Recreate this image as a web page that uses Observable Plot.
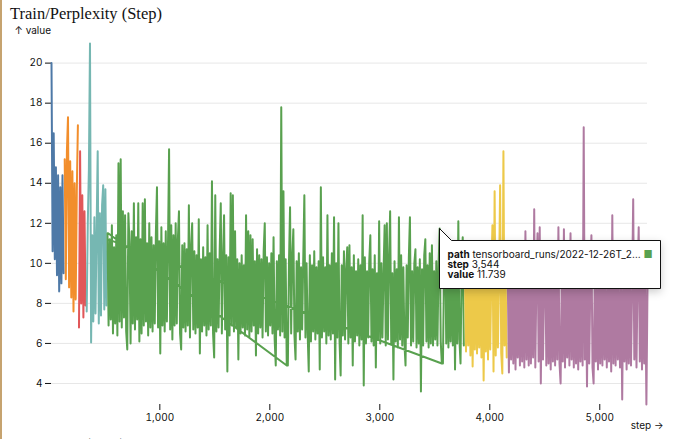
<!DOCTYPE html>
<html>
<head>
<meta charset="utf-8">
<script src="https://cdn.jsdelivr.net/npm/d3@7"></script>
<script src="https://cdn.jsdelivr.net/npm/@observablehq/plot@0.6"></script>
<style>
  html, body { margin: 0; padding: 0; background: #fff; width: 680px; height: 439px; overflow: hidden; }
  #page { position: relative; width: 680px; height: 439px; border-left: 2px solid #c6a36f; box-sizing: border-box; overflow: hidden; }
  .title { position: absolute; left: 8px; font-family: "Liberation Serif", "Times New Roman", serif; font-size: 16.5px; line-height: 1; color: #111; white-space: nowrap; }
  #chart { position: absolute; left: 9px; top: 23px; }
</style>
</head>
<body>
<div id="page">
  <div class="title" style="top:6px">Train/Perplexity (Step)</div>
  <div id="chart"></div>
  <div class="title" style="top:437px">Train/Loss (Step)</div>
</div>
<script>
// ---- data ----
const paths = [
  "tensorboard_runs/2022-12-25T_09-12-44",
  "tensorboard_runs/2022-12-25T_13-40-02",
  "tensorboard_runs/2022-12-25T_18-05-37",
  "tensorboard_runs/2022-12-26T_08-22-19",
  "tensorboard_runs/2022-12-26T_21-03-55",
  "tensorboard_runs/2022-12-27T_10-48-31",
  "tensorboard_runs/2022-12-27T_16-15-09"
];
const colors = ["#4e79a7", "#f28e2c", "#e15759", "#76b7b2", "#59a14f", "#edc949", "#af7aa1"];
const starts = [15, 135, 265, 335, 524, 3774, 4164];
const logEvery = 10;
const xLabel = "step →";

const run0 = [20.0, 10.6, 16.5, 10.2, 14.8, 9.4, 14.4, 8.6, 13.8, 9.0, 14.4, 9.5];
const run1 = [15.2, 9.2, 15.6, 17.3, 8.8, 15.1, 8.3, 14.6, 7.6, 14.0, 8.2, 13.6, 16.9];
const run2 = [6.8, 15.6, 8.0, 13.4, 7.3, 12.6, 7.9];
const run3 = [7.6, 12.0, 14.7, 20.98, 6.05, 11.4, 7.1, 12.3, 7.5, 11.6, 15.6, 7.0, 12.5, 7.4, 12.9, 13.9, 7.7, 13.7, 7.9];
const run4 = [
  11.5, 6.9, 11.2, 7.2, 11.9, 6.5, 10.8, 7.0, 11.4, 6.4,
  15.0, 7.1, 15.2, 6.8, 12.6, 7.3, 12.4, 6.6, 5.7, 12.5,
  11.0, 6.0, 11.6, 7.0, 13.0, 6.7, 11.3, 7.2, 13.0, 6.1,
  11.2, 6.5, 13.0, 6.9, 13.2, 7.1, 11.0, 6.4, 12.0, 6.8,
  11.3, 6.6, 10.9, 7.0, 11.5, 13.8, 6.8, 11.1, 5.5, 11.8,
  6.9, 11.0, 6.6, 11.6, 7.1, 10.8, 15.7, 6.7, 11.9, 6.2,
  11.4, 6.9, 12.0, 7.0, 11.2, 12.6, 6.5, 5.7, 10.9, 6.8,
  11.0, 6.6, 10.7, 6.9, 12.9, 6.3, 10.8, 12.0, 6.7, 10.6,
  6.5, 10.4, 6.8, 12.2, 5.5, 10.2, 6.6, 10.8, 6.9, 10.3,
  6.4, 11.9, 6.7, 10.5, 6.9, 14.1, 6.5, 5.3, 13.4, 6.6,
  10.2, 6.8, 10.6, 13.0, 6.5, 10.1, 12.4, 6.7, 10.4, 4.6,
  10.3, 6.4, 13.5, 6.9, 13.4, 6.6, 11.6, 6.8, 10.2, 5.2,
  10.0, 6.5, 10.4, 6.8, 9.9, 6.4, 12.4, 6.7, 11.6, 6.3,
  11.4, 6.6, 11.2, 6.9, 10.1, 5.4, 10.7, 6.5, 10.4, 6.8,
  10.2, 6.3, 10.6, 12.0, 6.6, 10.3, 6.4, 10.0, 6.9, 10.5,
  6.5, 11.3, 6.2, 4.9, 10.1, 6.7, 10.4, 6.4, 17.8, 6.6,
  13.6, 6.3, 10.2, 4.9, 4.9, 10.0, 12.8, 6.5, 10.3, 11.7,
  6.4, 5.2, 10.1, 6.6, 10.5, 6.2, 9.8, 6.7, 10.2, 13.4,
  6.3, 10.0, 6.5, 4.6, 10.4, 6.1, 9.9, 6.6, 10.6, 6.2,
  9.8, 6.5, 10.1, 4.7, 13.8, 6.3, 10.3, 6.6, 9.8, 6.0,
  12.4, 6.4, 9.9, 6.2, 10.5, 6.5, 12.3, 4.2, 10.0, 6.3,
  12.0, 6.1, 4.4, 9.9, 6.4, 10.6, 6.2, 9.7, 10.8, 6.0,
  10.9, 6.3, 9.8, 4.9, 10.4, 6.1, 9.6, 6.4, 10.2, 5.9,
  9.9, 6.2, 12.4, 3.9, 10.3, 6.0, 9.6, 6.3, 10.1, 11.4,
  6.1, 9.7, 5.9, 10.4, 4.8, 9.5, 6.2, 12.1, 6.0, 10.0,
  6.3, 9.6, 11.9, 5.9, 12.0, 6.2, 10.2, 12.6, 6.0, 9.5,
  4.2, 10.1, 6.1, 9.7, 5.8, 12.3, 6.2, 10.4, 5.9, 9.8,
  6.0, 4.9, 9.9, 6.3, 10.3, 12.3, 5.9, 9.6, 6.1, 10.0,
  10.7, 5.8, 9.8, 6.0, 10.2, 3.6, 9.7, 5.9, 10.4, 11.2,
  6.1, 9.9, 5.8, 10.5, 6.0, 10.9, 5.9, 9.6, 6.2, 10.1,
  5.9, 9.8, 11.739, 6.1, 5.0, 5.0, 9.7, 11.4, 6.0, 10.2,
  5.8, 9.6, 6.1, 10.9, 5.9, 10.0, 4.7, 9.5, 6.0, 12.1,
  6.2, 5.0, 9.8, 11.3, 5.9
];
const run5 = [
  9.4, 5.6, 9.8, 5.9, 9.2, 5.4, 9.6, 4.85, 9.3, 5.7,
  9.9, 5.5, 9.1, 5.8, 9.5, 5.3, 9.7, 4.15, 9.2, 5.6,
  9.4, 5.2, 9.8, 5.7, 9.3, 11.9, 4.6, 13.6, 5.4, 9.5,
  5.8, 9.2, 13.9, 5.5, 4.5, 15.6, 5.9, 9.4, 5.3
];
const run6 = [
  9.0, 4.55, 9.3, 5.2, 8.8, 5.0, 9.4, 4.7, 9.1, 5.3,
  8.9, 4.9, 9.2, 5.1, 9.5, 4.8, 11.6, 5.2, 9.0, 4.9,
  9.3, 5.0, 8.7, 5.3, 12.7, 4.8, 9.2, 11.5, 5.1, 11.8,
  4.0, 9.1, 5.2, 8.9, 11.1, 4.9, 9.4, 5.0, 9.0, 4.7,
  9.2, 5.1, 8.8, 4.9, 9.3, 5.2, 11.8, 5.0, 4.0, 9.1,
  5.1, 11.7, 4.8, 9.0, 5.3, 9.4, 4.9, 11.5, 5.2, 8.9,
  4.8, 9.2, 5.0, 8.8, 4.7, 9.3, 5.1, 9.0, 4.9, 16.8,
  5.2, 9.1, 3.85, 9.4, 5.0, 8.9, 11.4, 4.8, 4.0, 9.2,
  5.1, 8.8, 4.7, 9.3, 5.0, 9.0, 4.9, 9.4, 5.2, 8.7,
  4.8, 9.2, 5.1, 8.9, 4.6, 12.4, 5.0, 9.1, 4.9, 9.3,
  5.2, 8.8, 4.8, 9.0, 3.2, 9.2, 5.1, 8.9, 4.7, 9.3,
  5.0, 9.1, 4.9, 8.8, 13.2, 5.2, 9.0, 4.8, 9.4, 11.8,
  5.1, 8.9, 4.7, 9.2, 5.0, 9.0, 2.95, 8.8
];
// the green run was resumed from an earlier step: [after step, back to step, value]
const restarts = [[2154, 530, 11.5], [3564, 530, 11.2]];
const hovered = {path: paths[4], step: 3544, value: 11.739};

// ---- build rows ----
const runs = [run0, run1, run2, run3, run4, run5, run6];
const rows = [];
runs.forEach((vals, i) => {
  vals.forEach((v, j) => {
    const step = starts[i] + logEvery * j;
    rows.push({path: paths[i], step, value: v});
    if (i === 4) for (const [after, back, bv] of restarts) if (after === step) {
      rows.push({path: paths[i], step: back, value: bv});
      rows.push({path: paths[i], step: back, value: NaN}); // break: the resumed log continues further right
    }
  });
});

const chart = Plot.plot({
  width: 656,
  height: 411,
  marginTop: 20,
  marginRight: 20,
  marginBottom: 30,
  marginLeft: 40,
  style: {fontFamily: "Inter, 'DejaVu Sans', sans-serif", fontSize: "10px", background: "white", overflow: "visible", color: "#111"},
  x: {label: null},
  y: {label: "value", grid: true},
  color: {domain: paths, range: colors},
  marks: [
    Plot.lineY(rows, {x: "step", y: "value", stroke: "path", z: "path", strokeWidth: 2}),
    Plot.text([xLabel], {frameAnchor: "bottom-right", dx: 16, dy: 24, textAnchor: "end"}),
    Plot.tip([hovered], {
      x: "step", y: "value", anchor: "top-left",
      channels: {path: {value: "path", scale: "color"}},
      format: {path: true, x: true, y: true},
      lineWidth: 20, textOverflow: "ellipsis"
    })
  ]
});
document.getElementById("chart").appendChild(chart);
</script>
</body>
</html>
